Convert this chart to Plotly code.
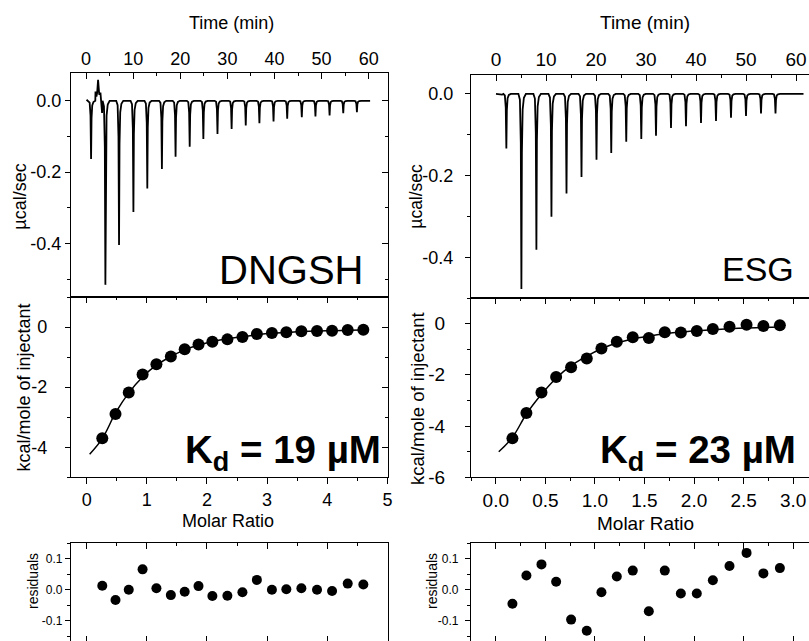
import plotly.graph_objects as go

FONT = "Liberation Sans, Arial, Helvetica, sans-serif"
W, H = 809, 641

# ---------------- data ----------------
# Raw thermograms: injection times (min) and peak minima (µcal/sec)
dngsh_inj_time = [1.06, 4.1, 7.0, 10.05, 13.0, 16.1, 19.0, 22.0, 24.9, 27.9,
                  30.9, 33.9, 36.8, 39.8, 42.7, 45.8, 48.7, 51.7, 54.6, 57.5]
dngsh_peak = [-0.163, -0.516, -0.404, -0.312, -0.246, -0.191, -0.157, -0.129, -0.107, -0.093,
              -0.079, -0.069, -0.063, -0.058, -0.050, -0.046, -0.044, -0.041, -0.035, -0.032]
dngsh_wiggle_t = [0.1, 0.4, 2.0, 2.2, 2.35, 2.55, 2.8, 3.05, 3.4]
dngsh_wiggle_y = [0.003, 0.0, 0.026, 0.012, 0.022, 0.059, 0.017, 0.023, -0.034]
dngsh_trace_end = 60.3

esg_inj_time = [2.07, 5.08, 8.08, 11.09, 14.1, 17.1, 20.1, 23.05, 26.05, 29.06,
                32.0, 35.0, 38.0, 41.0, 44.0, 47.0, 50.0, 53.0, 55.9]
esg_peak = [-0.133, -0.476, -0.380, -0.300, -0.243, -0.203, -0.161, -0.144, -0.117, -0.110,
            -0.102, -0.083, -0.079, -0.071, -0.066, -0.058, -0.054, -0.048, -0.048]
esg_wiggle_t = [0.0, 1.2]
esg_wiggle_y = [0.0, -0.002]
esg_trace_end = 61.5

# Integrated heats (kcal/mole of injectant) vs molar ratio
dngsh_ratio = [0.26, 0.48, 0.70, 0.93, 1.16, 1.40, 1.63, 1.86, 2.09, 2.34,
               2.59, 2.83, 3.08, 3.32, 3.57, 3.83, 4.08, 4.34, 4.60]
dngsh_heat = [-3.70, -2.89, -2.18, -1.58, -1.24, -0.98, -0.74, -0.58, -0.49, -0.41,
              -0.33, -0.23, -0.20, -0.17, -0.14, -0.13, -0.12, -0.10, -0.09]
dngsh_resid = [0.013, -0.033, 0.0, 0.066, 0.005, -0.017, -0.006, 0.012, -0.020, -0.019,
               -0.008, 0.032, 0.0, 0.002, 0.005, 0.0, -0.004, 0.020, 0.017]
dngsh_fit_x = [0.05, 0.26, 0.48, 0.70, 0.93, 1.16, 1.40, 1.63, 1.86, 2.09,
               2.34, 2.59, 2.83, 3.08, 3.32, 3.57, 3.83, 4.08, 4.34, 4.60]
dngsh_fit_y = [-4.23, -3.71, -2.86, -2.19, -1.66, -1.27, -0.98, -0.76, -0.60, -0.48,
               -0.39, -0.32, -0.26, -0.21, -0.18, -0.15, -0.13, -0.12, -0.11, -0.10]

esg_ratio = [0.168, 0.309, 0.461, 0.609, 0.760, 0.918, 1.066, 1.221, 1.382, 1.544,
             1.705, 1.867, 2.028, 2.19, 2.358, 2.53, 2.70, 2.866]
esg_heat = [-4.48, -3.49, -2.69, -2.08, -1.70, -1.36, -0.97, -0.71, -0.53, -0.56,
            -0.34, -0.35, -0.29, -0.21, -0.12, -0.04, -0.09, -0.06]
esg_resid = [-0.045, 0.046, 0.082, 0.026, -0.096, -0.132, -0.008, 0.043, 0.062, -0.069,
             0.062, -0.012, -0.012, 0.031, 0.077, 0.119, 0.053, 0.070]
esg_fit_x = [0.03, 0.168, 0.309, 0.461, 0.609, 0.760, 0.918, 1.066, 1.221, 1.382,
             1.544, 1.705, 1.867, 2.028, 2.19, 2.358, 2.53, 2.70, 2.866]
esg_fit_y = [-5.0, -4.44, -3.53, -2.76, -2.13, -1.64, -1.27, -0.98, -0.76, -0.60,
             -0.49, -0.40, -0.33, -0.28, -0.24, -0.20, -0.17, -0.15, -0.13]

# Tick labels
time_ticks = [0, 10, 20, 30, 40, 50, 60]
time_labels = ["0", "10", "20", "30", "40", "50", "60"]
ucal_ticks = [0.0, -0.2, -0.4]
ucal_labels = ["0.0", "-0.2", "-0.4"]
kcal_ticks_l = [0, -2, -4]
kcal_labels_l = ["0", "-2", "-4"]
kcal_ticks_r = [0, -2, -4, -6]
kcal_labels_r = ["0", "-2", "-4", "-6"]
ratio_ticks_l = [0, 1, 2, 3, 4, 5]
ratio_labels_l = ["0", "1", "2", "3", "4", "5"]
ratio_ticks_r = [0.0, 0.5, 1.0, 1.5, 2.0, 2.5, 3.0]
ratio_labels_r = ["0.0", "0.5", "1.0", "1.5", "2.0", "2.5", "3.0"]
res_ticks = [0.1, 0.0, -0.1]
res_labels = ["0.1", "0.0", "-0.1"]

# ---------------- style ----------------
PEAK_DT = [-0.6, -0.3, -0.12, 0.0, 0.1, 0.25, 0.5, 0.9]
PEAK_FRAC = [0.0, 0.03, 0.25, 1.0, 0.3, 0.08, 0.02, 0.0]


def thermogram(inj_t, peaks, wig_t, wig_y, t_end):
    pts = list(zip(wig_t, wig_y))
    for t0, d in zip(inj_t, peaks):
        for dt, f in zip(PEAK_DT, PEAK_FRAC):
            pts.append((t0 + dt, f * d))
    pts.append((t_end, 0.0))
    pts.sort(key=lambda p: p[0])
    return [p[0] for p in pts], [p[1] for p in pts]


def dom_x(a, b):
    return [a / W, min(b / W, 1.0)]


def dom_y(top, bot):
    return [max(0.0, 1 - bot / H), 1 - top / H]


LW = 1.3
FS_L = 18
FS_R = 19


def axis(rng, anchor, side, ticks, tickvals=None, ticktext=None, minor=None,
         domain=None, showline=True, mirror=False, labels=True, fs=FS_L,
         ticklen=6, overlaying=None, standoff=None):
    d = dict(range=rng, anchor=anchor, side=side, ticks=ticks, ticklen=ticklen,
             tickwidth=LW, tickcolor="black", showline=showline, linecolor="black",
             linewidth=LW, mirror=mirror, showgrid=False, zeroline=False,
             showticklabels=labels, automargin=False, fixedrange=True,
             tickfont=dict(family=FONT, size=fs, color="black"))
    if domain is not None:
        d["domain"] = domain
    if tickvals is not None:
        d.update(tickmode="array", tickvals=tickvals, ticktext=ticktext)
    if minor is not None:
        d["minor"] = dict(tickmode="linear", tick0=minor[0], dtick=minor[1], ticks=ticks,
                          ticklen=3, tickwidth=LW, tickcolor="black", showgrid=False)
    if overlaying is not None:
        d["overlaying"] = overlaying
    if standoff is not None:
        d["ticklabelstandoff"] = standoff
    return d


colL = dom_x(71, 388)
colR = dom_x(471, 809)
topL, topR = dom_y(73, 297), dom_y(75, 298)
midL, midR = dom_y(297, 477.3), dom_y(298, 477.3)
resD = dom_y(543.3, 641)

rngT1x, rngT1y = [-3.2, 64.1], [-0.55, 0.078]
rngT2x, rngT2y = [-5.0, 62.6], [-0.498, 0.046]
rngM1x, rngM1y = [-0.26, 5.01], [-5.0, 1.0]
rngM2x, rngM2y = [-0.25, 3.16], [-6.0, 1.0]
rngRy = [-0.165, 0.15]

fig = go.Figure()

tx, ty = thermogram(dngsh_inj_time, dngsh_peak, dngsh_wiggle_t, dngsh_wiggle_y, dngsh_trace_end)
fig.add_trace(go.Scatter(x=tx, y=ty, mode="lines", line=dict(color="black", width=1.8),
                         xaxis="x", yaxis="y"))
tx, ty = thermogram(esg_inj_time, esg_peak, esg_wiggle_t, esg_wiggle_y, esg_trace_end)
fig.add_trace(go.Scatter(x=tx, y=ty, mode="lines", line=dict(color="black", width=1.8),
                         xaxis="x2", yaxis="y2"))

# binding isotherms
fig.add_trace(go.Scatter(x=dngsh_fit_x, y=dngsh_fit_y, mode="lines", line_shape="spline",
                         line=dict(color="black", width=1.5), xaxis="x3", yaxis="y3"))
fig.add_trace(go.Scatter(x=dngsh_ratio, y=dngsh_heat, mode="markers",
                         marker=dict(color="black", size=12), xaxis="x3", yaxis="y3"))
fig.add_trace(go.Scatter(x=esg_fit_x, y=esg_fit_y, mode="lines", line_shape="spline",
                         line=dict(color="black", width=1.5), xaxis="x4", yaxis="y4"))
fig.add_trace(go.Scatter(x=esg_ratio, y=esg_heat, mode="markers",
                         marker=dict(color="black", size=12), xaxis="x4", yaxis="y4"))

# residuals
fig.add_trace(go.Scatter(x=dngsh_ratio, y=dngsh_resid, mode="markers",
                         marker=dict(color="black", size=10), xaxis="x5", yaxis="y5"))
fig.add_trace(go.Scatter(x=esg_ratio, y=esg_resid, mode="markers",
                         marker=dict(color="black", size=10), xaxis="x6", yaxis="y6"))

# helper traces so overlay axes get drawn
for xa, ya in [("x", "y7"), ("x3", "y8"), ("x9", "y3"), ("x10", "y4"), ("x11", "y5"), ("x12", "y6")]:
    fig.add_trace(go.Scatter(x=[None], y=[None], xaxis=xa, yaxis=ya, hoverinfo="skip"))

layout = dict(
    width=W, height=H, margin=dict(l=0, r=0, t=0, b=0),
    paper_bgcolor="white", plot_bgcolor="rgba(0,0,0,0)", showlegend=False,
    font=dict(family=FONT, color="black"),
    # top-left thermogram
    xaxis=axis(rngT1x, "y", "top", "inside", time_ticks, time_labels, (0, 5), domain=colL, mirror=True),
    yaxis=axis(rngT1y, "x", "left", "outside", ucal_ticks, ucal_labels, (0, 0.1), domain=topL, ticklen=5),
    yaxis7=axis(rngT1y, "x", "right", "inside", ucal_ticks, ucal_labels, (0, 0.1), labels=False,
                overlaying="y"),
    # top-right thermogram
    xaxis2=axis(rngT2x, "y2", "top", "inside", time_ticks, time_labels, (0, 5), domain=colR,
                mirror=True, fs=FS_R),
    yaxis2=axis(rngT2y, "x2", "left", "outside", ucal_ticks, ucal_labels, (0, 0.1), domain=topR,
                ticklen=5, fs=18, standoff=8),
    # middle-left isotherm
    xaxis3=axis(rngM1x, "y3", "bottom", "outside", ratio_ticks_l, ratio_labels_l, (0, 0.5), domain=colL),
    yaxis3=axis(rngM1y, "x3", "left", "outside", kcal_ticks_l, kcal_labels_l, (0, 1), domain=midL,
                ticklen=5, standoff=14),
    yaxis8=axis(rngM1y, "x3", "right", "inside", kcal_ticks_l, kcal_labels_l, (0, 1), labels=False,
                overlaying="y3"),
    xaxis9=axis(rngM1x, "y3", "top", "inside", ratio_ticks_l, ratio_labels_l, (0, 0.5), labels=False,
                overlaying="x3"),
    # middle-right isotherm
    xaxis4=axis(rngM2x, "y4", "bottom", "outside", ratio_ticks_r, ratio_labels_r, (0, 0.25), domain=colR,
                fs=FS_R),
    yaxis4=axis(rngM2y, "x4", "left", "outside", kcal_ticks_r, kcal_labels_r, (0, 1), domain=midR,
                ticklen=5, standoff=16, fs=FS_R),
    xaxis10=axis(rngM2x, "y4", "top", "inside", ratio_ticks_r, ratio_labels_r, (0, 0.25), labels=False,
                 overlaying="x4"),
    # residuals left
    xaxis5=axis(rngM1x, "y5", "top", "inside", ratio_ticks_l, ratio_labels_l, (0, 0.5), domain=colL,
                labels=False),
    yaxis5=axis(rngRy, "x5", "left", "outside", res_ticks, res_labels, (0, 0.05), domain=resD,
                mirror=True, fs=12, ticklen=5),
    xaxis11=axis(rngM1x, "y5", "bottom", "inside", ratio_ticks_l, ratio_labels_l, None, labels=False,
                 showline=False, overlaying="x5", ticklen=5),
    # residuals right
    xaxis6=axis(rngM2x, "y6", "top", "inside", ratio_ticks_r, ratio_labels_r, (0, 0.25), domain=colR,
                labels=False),
    yaxis6=axis(rngRy, "x6", "left", "outside", res_ticks, res_labels, (0, 0.05), domain=resD,
                fs=12, ticklen=5, standoff=4),
    xaxis12=axis(rngM2x, "y6", "bottom", "inside", ratio_ticks_r, ratio_labels_r, None, labels=False,
                 showline=False, overlaying="x6", ticklen=5),
)
fig.update_layout(**layout)


def ann(text, xp, yp, size, xanchor="center", yanchor="middle", angle=0):
    fig.add_annotation(text=text, x=xp / W, y=1 - yp / H, xref="paper", yref="paper",
                       showarrow=False, xanchor=xanchor, yanchor=yanchor, textangle=angle,
                       font=dict(family=FONT, size=size, color="black"))


ann("Time (min)", 231, 22.5, 18)
ann("Time (min)", 644.7, 22, 19)
ann("µcal/sec", 20, 196.7, 18, angle=-90)
ann("µcal/sec", 416, 196.7, 17.5, angle=-90)
ann("kcal/mole of injectant", 23, 387.5, 18, angle=-90)
ann("kcal/mole of injectant", 418, 399, 18.5, angle=-90)
ann("Molar Ratio", 228.3, 520.7, 18)
ann("Molar Ratio", 645.7, 523, 19)
ann("residuals", 33, 581, 14, angle=-90)
ann("residuals", 432, 581, 14, angle=-90)

ann("DNGSH", 365, 269.5, 40, xanchor="right")
ann("ESG", 796, 269.2, 34, xanchor="right")
ann("<b>K<sub>d</sub> = 19 µM</b>", 183, 452, 38.5, xanchor="left")
ann("<b>K<sub>d</sub> = 23 µM</b>", 598, 452, 38.5, xanchor="left")

fig.write_html("out.html", post_script="document.body.style.margin='0px';",
               config={"displayModeBar": False})
